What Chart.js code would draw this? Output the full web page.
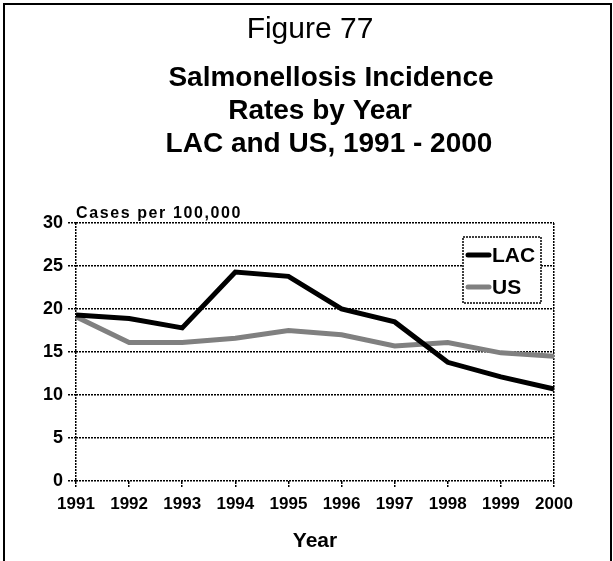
<!DOCTYPE html>
<html>
<head>
<meta charset="utf-8">
<script src="https://cdn.jsdelivr.net/npm/chart.js@4"></script>
<style>
  body { margin: 0; background: #fff; }
  canvas { display: block; }
</style>
</head>
<body>
<canvas id="lineChart" width="613" height="561"></canvas>
<script>
// data
var years = ["1991", "1992", "1993", "1994", "1995", "1996", "1997", "1998", "1999", "2000"];
var lacRates = [19.3, 18.9, 17.8, 24.3, 23.8, 20.0, 18.5, 13.8, 12.1, 10.7];
var usRates = [19.1, 16.1, 16.1, 16.6, 17.5, 17.0, 15.7, 16.1, 14.9, 14.5];
var yTicks = [0, 5, 10, 15, 20, 25, 30];

var figureLabel = "Figure 77";
var titleLines = ["Salmonellosis Incidence", "Rates by Year", "LAC and US, 1991 - 2000"];
var yUnitLabel = "Cases per 100,000";
var xTitle = "Year";

var FONT = "'Liberation Sans', Arial, sans-serif";
var dots = [2, 1];

// frame, heading and unit label
var headingPlugin = {
  id: 'heading',
  beforeDraw: function(chart) {
    var ctx = chart.ctx;
    ctx.save();
    ctx.fillStyle = '#fff';
    ctx.fillRect(0, 0, chart.width, chart.height);
    ctx.strokeStyle = '#000';
    ctx.lineWidth = 2;
    ctx.beginPath();
    ctx.moveTo(4, chart.height);
    ctx.lineTo(4, 4);
    ctx.lineTo(611, 4);
    ctx.lineTo(611, chart.height);
    ctx.stroke();
    ctx.restore();
  },
  afterDraw: function(chart) {
    var ctx = chart.ctx;
    ctx.save();
    ctx.fillStyle = '#000';
    ctx.textAlign = 'center';
    ctx.textBaseline = 'alphabetic';
    ctx.font = "30px " + FONT;
    ctx.fillText(figureLabel, 310, 38);
    ctx.font = "bold 28px " + FONT;
    var cx = [331, 320, 329];
    var by = [86, 119, 152];
    titleLines.forEach(function(t, i) { ctx.fillText(t, cx[i], by[i]); });
    ctx.textAlign = 'left';
    ctx.font = "bold 16px " + FONT;
    ctx.letterSpacing = '1.6px';
    ctx.fillText(yUnitLabel, chart.chartArea.left, chart.chartArea.top - 5);
    ctx.restore();
  }
};

// legend box inside the plot
var legendBoxPlugin = {
  id: 'legendBox',
  afterDatasetsDraw: function(chart) {
    var ctx = chart.ctx;
    var x0 = 463, y0 = 237, w = 78, h = 66;
    ctx.save();
    ctx.fillStyle = '#fff';
    ctx.fillRect(x0, y0, w, h);
    ctx.strokeStyle = '#000';
    ctx.lineWidth = 1.5;
    ctx.setLineDash(dots);
    ctx.strokeRect(x0, y0, w, h);
    ctx.setLineDash([]);
    ctx.font = "bold 21px " + FONT;
    ctx.textBaseline = 'middle';
    chart.data.datasets.forEach(function(ds, i) {
      var y = y0 + 18 + i * 32;
      ctx.strokeStyle = ds.borderColor;
      ctx.lineWidth = 5;
      ctx.lineCap = 'round';
      ctx.beginPath();
      ctx.moveTo(468, y);
      ctx.lineTo(489, y);
      ctx.stroke();
      ctx.fillStyle = '#000';
      ctx.fillText(ds.label, 492, y + 1);
    });
    ctx.restore();
  }
};

var ctxL = document.getElementById("lineChart").getContext('2d');
var myLineChart = new Chart(ctxL, {
  type: 'line',
  data: {
    labels: years,
    datasets: [{
      label: "LAC",
      data: lacRates,
      borderColor: '#000000',
      backgroundColor: '#000000',
      borderWidth: 5,
      pointRadius: 0,
      tension: 0
    },
    {
      label: "US",
      data: usRates,
      borderColor: '#808080',
      backgroundColor: '#808080',
      borderWidth: 5,
      pointRadius: 0,
      tension: 0
    }]
  },
  options: {
    responsive: false,
    animation: false,
    layout: { padding: { top: 223, right: 59, left: 0, bottom: 0 } },
    plugins: {
      legend: { display: false },
      title: { display: false },
      tooltip: { enabled: false }
    },
    scales: {
      x: {
        afterFit: function(scale) { scale.height = 80; },
        grid: {
          color: function(c) { return (c.index === 0 || c.index === years.length - 1) ? '#000' : 'rgba(0,0,0,0)'; },
          lineWidth: 1.5,
          borderDash: dots,
          tickColor: '#000',
          tickLength: 6,
          tickWidth: 1.5,
          tickBorderDash: [3, 1]
        },
        border: { display: false, dash: dots },
        ticks: {
          color: '#000',
          font: { family: FONT, size: 17, weight: 'bold' },
          padding: 7,
          maxRotation: 0,
          autoSkip: false
        },
        title: {
          display: true,
          text: xTitle,
          color: '#000',
          font: { family: FONT, size: 21, weight: 'bold' },
          padding: { top: 0, bottom: 7 }
        }
      },
      y: {
        min: 0,
        max: 30,
        afterFit: function(scale) { scale.width = 76; },
        afterBuildTicks: function(scale) {
          scale.ticks = yTicks.map(function(v) { return { value: v }; });
        },
        grid: {
          color: '#000',
          lineWidth: 1.5,
          borderDash: dots,
          tickColor: '#000',
          tickLength: 8,
          tickWidth: 1.5,
          tickBorderDash: dots
        },
        border: { display: false, dash: dots },
        ticks: {
          color: '#000',
          font: { family: FONT, size: 18, weight: 'bold' },
          padding: 5
        }
      }
    }
  },
  plugins: [headingPlugin, legendBoxPlugin]
});
</script>
</body>
</html>
